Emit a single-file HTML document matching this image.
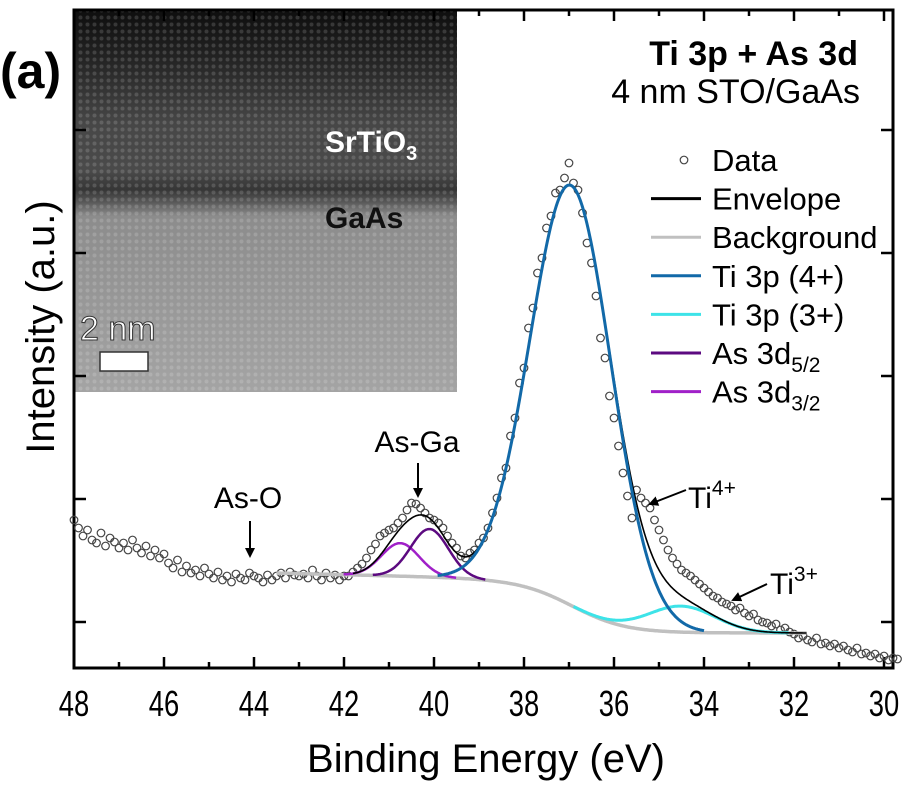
<!DOCTYPE html>
<html><head><meta charset="utf-8"><style>
html,body{margin:0;padding:0;background:#fff;}
svg{display:block;font-family:"Liberation Sans",sans-serif;}
</style></head><body>
<svg id="chart" width="910" height="791" viewBox="0 0 910 791">
<defs>
<linearGradient id="tem" x1="0" y1="0" x2="0" y2="1">
<stop offset="0" stop-color="#0e0e0e"/><stop offset="0.12" stop-color="#222"/>
<stop offset="0.3" stop-color="#474747"/><stop offset="0.42" stop-color="#4a4a4a"/>
<stop offset="0.47" stop-color="#363636"/><stop offset="0.5" stop-color="#555"/><stop offset="0.54" stop-color="#8c8c8c"/>
<stop offset="1" stop-color="#a4a4a4"/></linearGradient>
<pattern id="lat" width="7" height="7" patternUnits="userSpaceOnUse"><circle cx="3.5" cy="3.5" r="2" fill="#fff" opacity="0.15"/></pattern>
<marker id="ah" markerWidth="10" markerHeight="10" refX="8" refY="5" orient="auto" markerUnits="userSpaceOnUse"><path d="M0,0 L10,5 L0,10 z" fill="#000"/></marker>
</defs>
<g id="inset">
<rect x="74" y="10" width="383" height="382" fill="url(#tem)"/>
<rect x="74" y="10" width="383" height="382" fill="url(#lat)"/>
<text x="325" y="152" font-size="30" font-weight="bold" fill="#fff">SrTiO<tspan font-size="20" dy="8">3</tspan></text>
<text x="325" y="228" font-size="30" font-weight="bold" fill="#111">GaAs</text>
<text x="80" y="340" font-size="34" fill="#fff" stroke="#333" stroke-width="1">2 nm</text>
<rect x="100" y="352" width="48" height="19" fill="#fff" stroke="#333" stroke-width="1.5"/>
</g>
<g id="plot"></g>
<text x="0" y="88" font-size="50" font-weight="bold">(a)</text>
<text transform="translate(54,327) rotate(-90)" text-anchor="middle" font-size="40">Intensity (a.u.)</text>
<text x="486" y="772" text-anchor="middle" font-size="40">Binding Energy (eV)</text>
<text x="858" y="65" text-anchor="end" font-size="34" font-weight="bold">Ti 3p + As 3d</text>
<text x="860" y="103" text-anchor="end" font-size="34">4 nm STO/GaAs</text>
<g><text x="248" y="508" text-anchor="middle" font-size="30">As-O</text><line x1="250" y1="521" x2="250" y2="556" stroke="#000" stroke-width="2" marker-end="url(#ah)"/></g>
<g><text x="417" y="452" text-anchor="middle" font-size="30">As-Ga</text><line x1="418" y1="463" x2="418" y2="496" stroke="#000" stroke-width="2" marker-end="url(#ah)"/></g>
<g><text x="688" y="508" font-size="30">Ti<tspan font-size="21" dy="-13">4+</tspan></text><line x1="686" y1="490" x2="650" y2="504" stroke="#000" stroke-width="2" marker-end="url(#ah)"/></g>
<g><text x="770" y="594" font-size="30">Ti<tspan font-size="21" dy="-13">3+</tspan></text><line x1="767" y1="584" x2="733" y2="600" stroke="#000" stroke-width="2" marker-end="url(#ah)"/></g>
<g id="legend"></g>
</svg>
<script>
const energies=[];for(let i=0;i<=183;i++)energies.push(+(48-i*0.1).toFixed(1));
const dataIntensity=[148,140,132,138,128,125,135,122,130,126,120,
125,118,128,120,115,122,112,118,110,114,
105,100,108,96,102,95,98,92,100,94,
90,96,88,92,86,94,90,88,95,92,
90,86,93,88,92,95,90,96,93,92,
94,90,98,92,88,95,90,93,88,92,
92,96,100,104,110,118,124,132,135,138,
140,145,150,158,165,164,160,155,150,148,
145,140,132,125,120,112,110,115,118,125,
130,140,155,170,190,200,232,250,285,300,
340,360,395,410,440,452,475,478,490,505,
485,478,455,425,405,372,330,310,272,250,
222,195,172,150,178,170,165,160,148,138,
128,118,110,104,98,95,92,88,84,80,
76,72,70,66,64,62,58,60,55,52,
54,48,46,45,42,44,38,40,36,34,
30,32,28,26,30,24,25,22,24,20,
22,18,16,20,14,15,12,14,10,12,8,10,9];
const bgRange=[43.5,31.7];
const bgLevels=[35,90];
const bgStep=[36.9,0.6];
const bgSlope=[1.1];
const peakNames=["Ti 3p (4+)","Ti 3p (3+)","As 3d5/2","As 3d3/2"];
const peakCenter=[36.95,34.5,40.1,40.75];
const peakAmp=[420,26,48,33];
const peakSigma=[0.9,0.75,0.42,0.42];
const peakColor=["#1269a8","#3de3e8","#5c0a80","#a020c8"];
const xTicks=[48,46,44,42,40,38,36,34,32,30];
const yTickPx=[130,253,376,499,622];

const NS="http://www.w3.org/2000/svg";
const X=e=>74+(48-e)*45;
const Y=v=>668-v;
function mk(t,a,p){const el=document.createElementNS(NS,t);for(const k in a)el.setAttribute(k,a[k]);p.appendChild(el);return el;}
const plot=document.getElementById('plot');
function bg(e){const s=1/(1+Math.exp(-(e-bgStep[0])/bgStep[1]));const hi=bgLevels[1]+bgSlope[0]*(e-39);return bgLevels[0]+(hi-bgLevels[0])*s;}
function comp(k,e){return peakAmp[k]*Math.exp(-Math.pow(e-peakCenter[k],2)/(2*peakSigma[k]*peakSigma[k]));}
const ax=mk('g',{},plot);


mk('rect',{x:74,y:10,width:819,height:658,fill:'none',stroke:'#000','stroke-width':3},ax);
for(let e=48;e>=30;e--){const x=X(e);const L=e%2===0?11:6;
mk('line',{x1:x,y1:668,x2:x,y2:668-L,stroke:'#000','stroke-width':2.5},ax);
mk('line',{x1:x,y1:10,x2:x,y2:10+L,stroke:'#000','stroke-width':2.5},ax);}
xTicks.forEach(t=>{const tx=mk('text',{transform:'translate('+X(t)+',716) scale(0.76,1)','text-anchor':'middle','font-size':36},ax);tx.textContent=t;

});
yTickPx.forEach(y=>{mk('line',{x1:74,y1:y,x2:86,y2:y,stroke:'#000','stroke-width':2.5},ax);mk('line',{x1:893,y1:y,x2:881,y2:y,stroke:'#000','stroke-width':2.5},ax);});
const dg=mk('g',{},plot);


energies.forEach((e,i)=>{if(dataIntensity[i]===undefined)return;const c=mk('circle',{cx:X(e),cy:Y(dataIntensity[i]),r:3.8,fill:'none',stroke:'#444','stroke-width':1.2},dg);

});
function path(f,e0,e1,col,w,name){let d='';for(let e=e0;e>=e1;e-=0.02){d+=(d?'L':'M')+X(e).toFixed(1)+','+Y(f(e)).toFixed(1);}const p=mk('path',{d:d,fill:'none',stroke:col,'stroke-width':w},plot);

}
path(bg,bgRange[0],bgRange[1],'#c0c0c0',3.5,'background-line');
path(e=>bg(e)+comp(3,e),peakCenter[3]+3*peakSigma[3],peakCenter[3]-3*peakSigma[3],peakColor[3],2.5,'as-3d32-line');
path(e=>bg(e)+comp(2,e),peakCenter[2]+3*peakSigma[2],peakCenter[2]-3*peakSigma[2],peakColor[2],2.5,'as-3d52-line');
path(e=>bg(e)+comp(1,e),peakCenter[1]+3.2*peakSigma[1],peakCenter[1]-3.2*peakSigma[1],peakColor[1],3,'ti3p-3plus-line');
path(e=>{let s=bg(e);for(let k=0;k<4;k++)s+=comp(k,e);return s;},41.8,31.7,'#000',1.6,'envelope-line');
path(e=>bg(e)+comp(0,e),peakCenter[0]+3.3*peakSigma[0],peakCenter[0]-3.3*peakSigma[0],peakColor[0],3,'ti3p-4plus-line');
const lg=document.getElementById('legend');
const labels=[["Data",null],["Envelope","#000"],["Background","#c0c0c0"],["Ti 3p (4+)",peakColor[0]],["Ti 3p (3+)",peakColor[1]],["As 3d","5/2",peakColor[2]],["As 3d","3/2",peakColor[3]]];
labels.forEach((l,i)=>{const y=160+i*38.6;const g=mk('g',{},lg);


const col=l.length===3?l[2]:l[1];
if(col===null)mk('circle',{cx:684,cy:y,r:3.8,fill:'none',stroke:'#444','stroke-width':1.2},g);
else mk('line',{x1:651,y1:y,x2:701,y2:y,stroke:col,'stroke-width':3},g);
const t=mk('text',{x:712,y:y+11,'font-size':31},g);t.textContent=l[0];
if(l.length===3){const s=mk('tspan',{'font-size':21,dy:8},t);s.textContent=l[1];}});
</script>
</body></html>
